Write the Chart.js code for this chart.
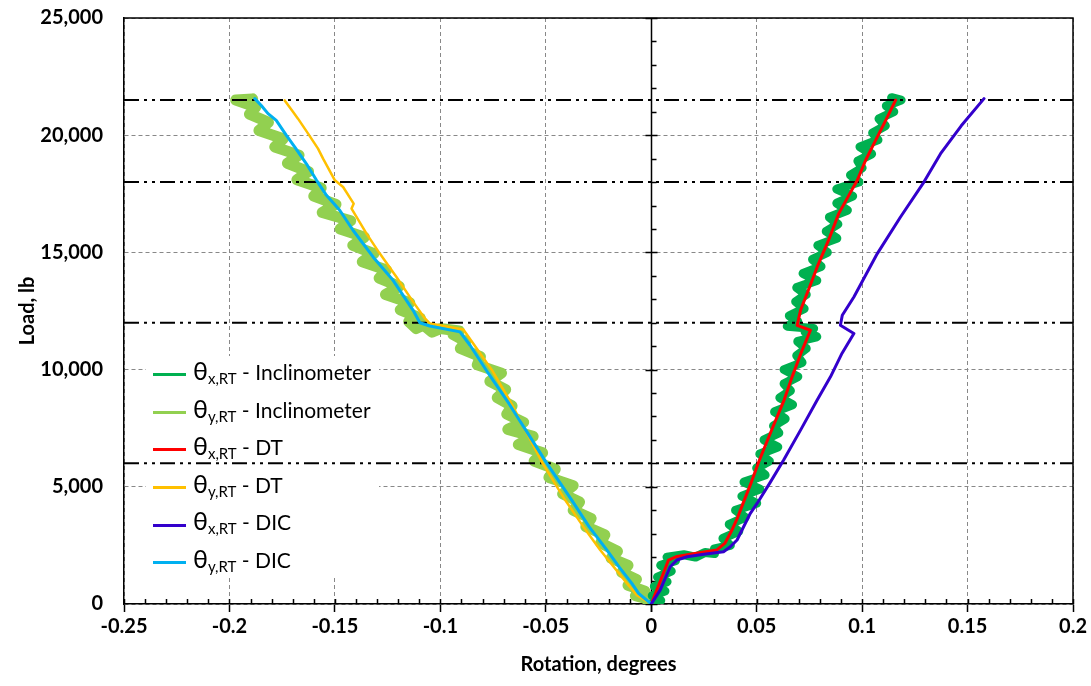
<!DOCTYPE html>
<html>
<head>
<meta charset="utf-8">
<script src="https://cdn.jsdelivr.net/npm/chart.js@4.4.1/dist/chart.umd.min.js"></script>
<style>
  html, body { margin: 0; padding: 0; background: #fff; }
  #wrap { position: relative; width: 1091px; height: 686px; }
  #legend { position: absolute; left: 146px; top: 351px; width: 233px; height: 225px; font-family: Lato, sans-serif; color: #000; }
  .row { position: absolute; left: 7px; height: 38px; line-height: 38px; font-size: 21px; white-space: nowrap; }
  .sw { display: inline-block; width: 33px; height: 3px; vertical-align: middle; margin-right: 7px; }
  .th { font-size: 25px; }
  .sb { font-size: 15px; position: relative; top: 4px; }
</style>
</head>
<body>
<div id="wrap">
  <canvas id="chart"></canvas>
  <div id="legend"></div>
</div>
<script>
/* Rotation (degrees) vs load (lb) */

// axes
var xTicks = [-0.25, -0.2, -0.15, -0.1, -0.05, 0, 0.05, 0.1, 0.15, 0.2];
var xTickLabels = ['-0.25', '-0.2', '-0.15', '-0.1', '-0.05', '0', '0.05', '0.1', '0.15', '0.2'];
var yTicks = [0, 5000, 10000, 15000, 20000, 25000];
var yTickLabels = ['0', '5,000', '10,000', '15,000', '20,000', '25,000'];

// load levels of the dash-dot reference lines
var refLoads = [21500, 18000, 12000, 6000];

// legend text
var seriesAxis = ['x', 'y', 'x', 'y', 'x', 'y'];
var seriesMethod = ['Inclinometer', 'Inclinometer', 'DT', 'DT', 'DIC', 'DIC'];
var seriesColor = ['#00B050', '#92D050', '#FF0000', '#FFC000', '#3300CC', '#00B0F0'];

// θx,RT - Inclinometer (noisy band)
var incXLoad = [0,150,350,550,750,950,1150,1400,1650,1850,2000,2100,2000,2200,2150,2350,2500,2800,3100,3400,
  3700,4000,4300,4600,4900,5200,5500,5800,6100,6400,6700,7000,7300,7600,7900,8200,8500,8800,9100,9400,
  9700,10000,10300,10600,10900,11200,11400,11600,11750,11850,12050,12300,12600,12900,13200,13500,13800,14100,14400,14700,
  15000,15300,15600,15900,16200,16500,16800,17100,17400,17700,18000,18300,18600,18900,19200,19500,19800,20100,20400,20700,
  21000,21250,21500,21600];
var incXRot = [0.0005,0.0045,0.0005,0.0065,0.0015,0.0075,0.003,0.0095,0.0045,0.0115,0.0075,0.0155,0.021,0.0255,0.030,0.030,0.0375,0.034,0.0415,0.037,
  0.0445,0.040,0.050,0.043,0.0515,0.044,0.054,0.050,0.056,0.0515,0.060,0.0535,0.0605,0.058,0.0635,0.0585,0.067,0.061,0.066,0.063,
  0.0695,0.063,0.0715,0.069,0.0735,0.0695,0.0785,0.073,0.077,0.0645,0.0695,0.0655,0.0725,0.0685,0.0735,0.069,0.0785,0.072,0.0805,0.0765,
  0.0835,0.079,0.088,0.083,0.0885,0.0845,0.093,0.088,0.0955,0.088,0.0985,0.0945,0.100,0.098,0.1045,0.099,0.1075,0.105,0.111,0.108,
  0.115,0.1115,0.1185,0.114];

// θy,RT - Inclinometer (noisy band)
var incYLoad = [0,150,350,550,800,1050,1350,1650,1950,2250,2600,2950,3300,3650,4000,4350,4700,5050,5400,5750,
  6100,6450,6800,7150,7450,7750,8100,8450,8800,9150,9500,9850,10200,10550,10900,11200,11500,11650,11750,11600,
  11900,11750,12050,12200,12550,12850,13200,13550,13900,14250,14600,14950,15300,15650,16000,16350,16700,17050,17400,17750,
  18100,18450,18800,19150,19500,19850,20200,20550,20900,21200,21500,21550];
var incYRot = [-0.0015,0.001,-0.0075,-0.003,-0.011,-0.007,-0.014,-0.011,-0.019,-0.016,-0.024,-0.022,-0.031,-0.0285,-0.037,-0.034,-0.042,-0.037,-0.0485,-0.0455,
  -0.0555,-0.0515,-0.063,-0.056,-0.068,-0.0605,-0.0685,-0.066,-0.073,-0.069,-0.0765,-0.071,-0.0825,-0.081,-0.0905,-0.088,-0.094,-0.091,-0.100,-0.104,
  -0.108,-0.1115,-0.115,-0.1095,-0.119,-0.1145,-0.126,-0.1195,-0.129,-0.1255,-0.137,-0.1315,-0.1415,-0.136,-0.1475,-0.1425,-0.156,-0.1495,-0.160,-0.1565,
  -0.168,-0.1625,-0.1725,-0.167,-0.1785,-0.1745,-0.186,-0.1815,-0.1905,-0.1875,-0.197,-0.189];

// θx,RT - DT
var dtXLoad = [0,900,1875,2030,2150,2300,2600,3100,3700,4400,5200,6070,7400,8700,9690,10700,11680,11890,12530,13500,
  14380,15500,16655,17400,18075,18900,19640,20600,21500];
var dtXRot = [0,0.004,0.0082,0.0122,0.020,0.031,0.035,0.038,0.041,0.044,0.0475,0.051,0.057,0.063,0.0668,0.071,0.0755,0.0692,0.0708,0.075,
  0.0787,0.084,0.0889,0.0935,0.0977,0.1015,0.1056,0.111,0.1159];

// θy,RT - DT
var dtYLoad = [0,380,880,2300,3300,4434,6000,6990,8700,9975,11110,11710,11965,12180,12890,13950,14950,15800,16870,17080,
  17790,18075,19000,19425,20065,20705,20990,21485];
var dtYRot = [0,-0.0068,-0.0115,-0.0242,-0.0322,-0.0408,-0.0515,-0.0572,-0.0672,-0.0755,-0.0844,-0.0891,-0.1049,-0.1073,-0.1129,-0.1208,-0.1287,-0.135,-0.1421,-0.1411,
  -0.1461,-0.150,-0.1556,-0.1580,-0.1627,-0.1675,-0.1698,-0.1738];

// θx,RT - DIC
var dicXLoad = [0,600,1590,1875,2016,2120,2230,2440,2730,3870,4290,5200,6140,7450,8700,9690,10700,11540,11890,12320,
  13100,14950,16510,18000,19210,20400,21560];
var dicXRot = [0,0.0043,0.009,0.0122,0.017,0.025,0.0343,0.0375,0.0407,0.047,0.0502,0.0565,0.0628,0.071,0.0787,0.085,0.0905,0.0961,0.0897,0.0906,
  0.0961,0.1072,0.1182,0.1293,0.1372,0.147,0.1578];

// θy,RT - DIC
var dicYLoad = [0,456,880,1550,2300,3300,4434,6000,7277,8556,9835,11040,11610,11860,12000,12530,13810,14805,15945,16800,
  17435,18075,18780,19490,19990,20630,20920,21270,21560];
var dicYRot = [0,-0.006,-0.0092,-0.015,-0.021,-0.0295,-0.0377,-0.0495,-0.0585,-0.0675,-0.0772,-0.0859,-0.0907,-0.1050,-0.1097,-0.1129,-0.1224,-0.1319,-0.1414,-0.1477,
  -0.1540,-0.1587,-0.1635,-0.1690,-0.1730,-0.1778,-0.1817,-0.1849,-0.1880];

function pts(xs, ys) {
  return xs.map(function (x, i) { return { x: x, y: ys[i] }; });
}

var FONT = 'Lato, "Open Sans", sans-serif';
Chart.defaults.color = '#000';
Chart.defaults.font.family = FONT;

var series = [
  { rot: incXRot, load: incXLoad, width: 9, order: 5 },
  { rot: incYRot, load: incYLoad, width: 11, order: 5 },
  { rot: dtXRot, load: dtXLoad, width: 3, order: 2 },
  { rot: dtYRot, load: dtYLoad, width: 2.5, order: 2 },
  { rot: dicXRot, load: dicXLoad, width: 3, order: 1 },
  { rot: dicYRot, load: dicYLoad, width: 3, order: 1 }
];

var datasets = series.map(function (s, i) {
  return {
    label: 'θ' + seriesAxis[i] + ',RT - ' + seriesMethod[i],
    data: pts(s.rot, s.load),
    borderColor: seriesColor[i],
    backgroundColor: seriesColor[i],
    borderWidth: s.width,
    borderJoinStyle: 'round',
    borderCapStyle: 'round',
    pointRadius: 0,
    showLine: true,
    tension: 0,
    order: s.order
  };
});

refLoads.forEach(function (v) {
  datasets.push({
    label: 'ref',
    data: [{ x: xTicks[0], y: v }, { x: xTicks[xTicks.length - 1], y: v }],
    borderColor: '#000',
    borderWidth: 2,
    borderDash: [15, 5, 3, 5, 3, 5],
    pointRadius: 0,
    showLine: true,
    order: 3
  });
});

// frame, legend box, the value axis at x = 0 and minor ticks
var decor = {
  id: 'decor',
  beforeDatasetsDraw: function (chart) {
    var ctx = chart.ctx, a = chart.chartArea;
    var xs = chart.scales.x, ys = chart.scales.y;
    ctx.save();
    // legend background
    ctx.fillStyle = '#fff';
    ctx.fillRect(146, 356, 233, 222);
    // axis at zero
    var x0 = Math.round(xs.getPixelForValue(0)) + 0.5;
    ctx.strokeStyle = '#000';
    ctx.lineWidth = 1.5;
    ctx.beginPath();
    ctx.moveTo(x0, a.top); ctx.lineTo(x0, a.bottom + 8);
    for (var v = 0; v <= 25000; v += 1000) {
      var py = Math.round(ys.getPixelForValue(v)) + 0.5;
      if (v % 5000 === 0) { ctx.moveTo(x0 - 6, py); ctx.lineTo(x0 + 6, py); }
      else { ctx.moveTo(x0, py); ctx.lineTo(x0 + 5, py); }
    }
    for (var i = -25; i <= 20; i++) {
      var px = Math.round(xs.getPixelForValue(i / 100)) + 0.5;
      ctx.moveTo(px, a.bottom); ctx.lineTo(px, a.bottom - 5);
    }
    ctx.stroke();
    ctx.restore();
  },
  afterDraw: function (chart) {
    var ctx = chart.ctx, a = chart.chartArea;
    ctx.save();
    ctx.strokeStyle = '#000';
    ctx.lineWidth = 1.5;
    ctx.beginPath();
    ctx.moveTo(a.left, a.top); ctx.lineTo(a.right, a.top); ctx.lineTo(a.right, a.bottom);
    ctx.stroke();
    ctx.restore();
  }
};

new Chart(document.getElementById('chart').getContext('2d'), {
  type: 'scatter',
  data: { datasets: datasets },
  plugins: [decor],
  options: {
    responsive: true,
    maintainAspectRatio: false,
    animation: false,
    layout: { padding: { top: 18, right: 18, left: 0, bottom: 0 } },
    plugins: { legend: { display: false }, tooltip: { enabled: false } },
    scales: {
      x: {
        type: 'linear',
        min: -0.25,
        max: 0.2,
        afterBuildTicks: function (s) { s.ticks = xTicks.map(function (v) { return { value: v }; }); },
        afterFit: function (s) { s.height = 82; },
        ticks: {
          autoSkip: false,
          maxRotation: 0,
          padding: 3,
          font: { family: FONT, size: 20, weight: 'bold' },
          callback: function (v, i) { return xTickLabels[i]; }
        },
        grid: {
          color: function (c) { return c.tick && c.tick.value === 0 ? 'rgba(0,0,0,0)' : '#888'; },
          lineWidth: 1,
          drawTicks: true,
          tickLength: 8,
          tickColor: '#000',
          tickWidth: 1.5
        },
        border: { display: true, color: '#000', width: 1.5, dash: [4, 3] },
        title: {
          display: true,
          text: 'Rotation, degrees',
          font: { family: FONT, size: 20, weight: 'bold' },
          padding: { top: 0, bottom: 9 }
        }
      },
      y: {
        type: 'linear',
        min: 0,
        max: 25000,
        afterBuildTicks: function (s) { s.ticks = yTicks.map(function (v) { return { value: v }; }); },
        afterFit: function (s) { s.width = 124; s.paddingTop = 0; s.paddingBottom = 0; },
        ticks: {
          padding: 21,
          font: { family: FONT, size: 20, weight: 'bold' },
          callback: function (v, i) { return yTickLabels[i]; }
        },
        grid: { color: '#888', lineWidth: 1, drawTicks: false },
        border: { display: true, color: '#000', width: 1.5, dash: [4, 3] },
        title: {
          display: true,
          text: 'Load, lb',
          font: { family: FONT, size: 20, weight: 'bold' },
          padding: { top: 16, bottom: 0 }
        }
      }
    }
  }
});

// legend with subscripts
var leg = document.getElementById('legend');
seriesMethod.forEach(function (m, i) {
  var row = document.createElement('div');
  row.className = 'row';
  row.style.top = (i * 37.6) + 'px';
  row.innerHTML = '<span class="sw" style="background:' + seriesColor[i] + '"></span>' +
    '<span class="th">θ</span><span class="sb">' + seriesAxis[i] + ',RT</span> - ' + m;
  leg.appendChild(row);
});
</script>
</body>
</html>
